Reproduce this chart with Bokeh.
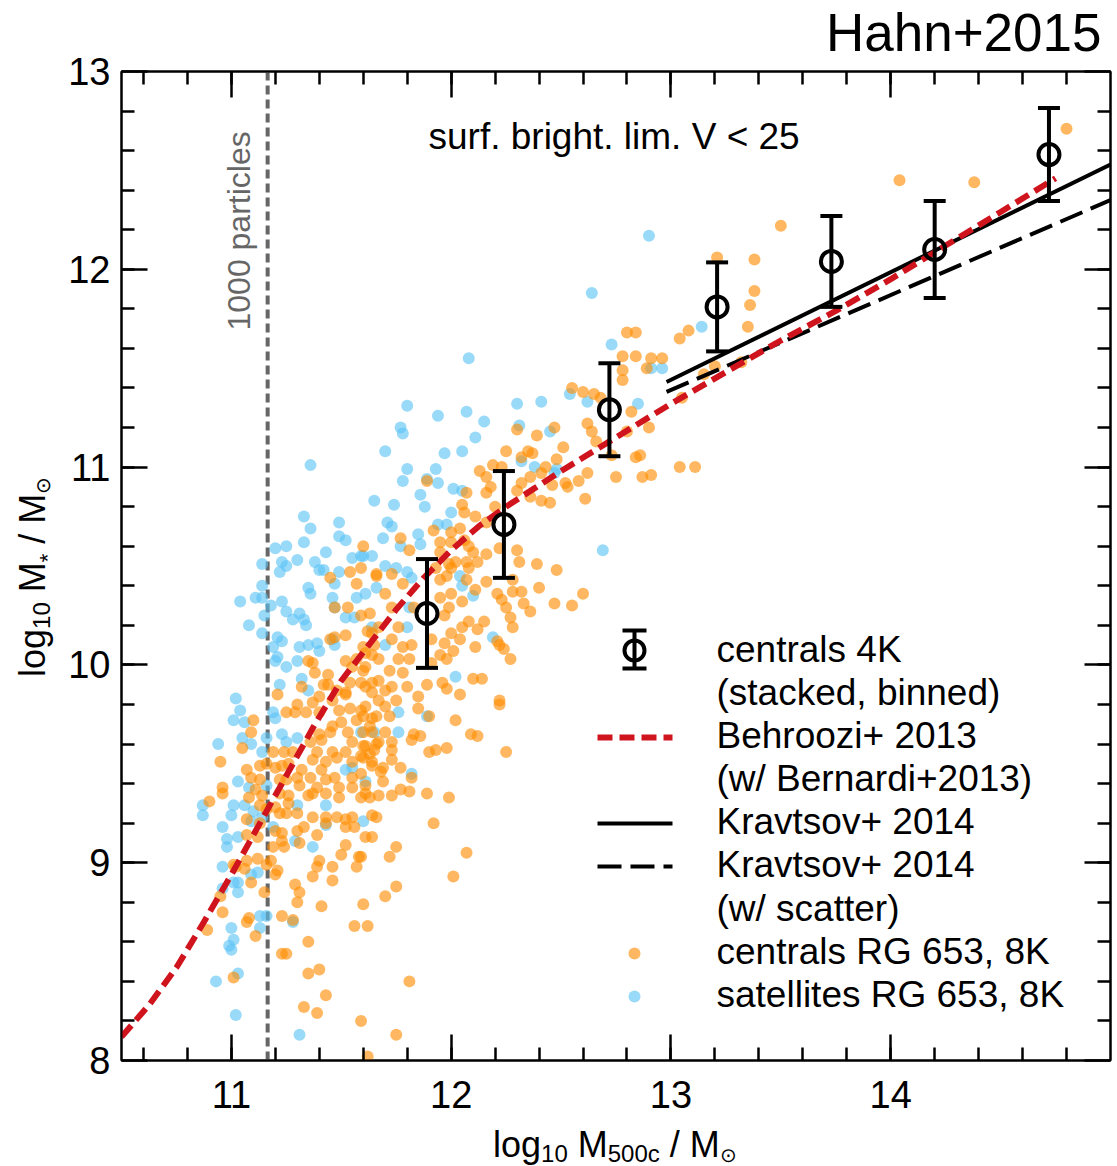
import numpy as np
from bokeh.plotting import figure
from bokeh.layouts import column, row
from bokeh.models import (ColumnDataSource, Label, LinearAxis, FixedTicker, Div,
                          Whisker, TeeHead, CustomJSTickFormatter)
from bokeh.embed import file_html
from bokeh.resources import INLINE

# ---------------------------------------------------------------- data
# log10 M500c / Msun  vs  log10 M* / Msun

# stacked & binned centrals (4K run)
bin_logm500 = [11.89, 12.24, 12.72, 13.21, 13.73, 14.20, 14.72]
bin_logmstar = [10.26, 10.71, 11.29, 11.81, 12.04, 12.10, 12.58]
bin_err = [0.275, 0.27, 0.235, 0.225, 0.23, 0.245, 0.235]

# Behroozi+2013 relation (with Bernardi+2013 correction)
behroozi_logm500 = [10.5, 10.625, 10.75, 10.875, 11.0, 11.125, 11.25, 11.375, 11.5,
                    11.625, 11.75, 11.875, 12.0, 12.125, 12.25, 12.375, 12.5, 12.75,
                    13.0, 13.25, 13.5, 13.75, 14.0, 14.25, 14.5, 14.75]
behroozi_logmstar = [8.12, 8.28, 8.47, 8.70, 8.94, 9.19, 9.44, 9.69, 9.92,
                     10.10, 10.28, 10.44, 10.58, 10.70, 10.80, 10.89, 10.98, 11.15,
                     11.32, 11.48, 11.64, 11.79, 11.95, 12.12, 12.29, 12.46]

# Kravtsov+2014
kravtsov_logm500 = [12.98, 15.0]
kravtsov_logmstar = [11.43, 12.53]
kravtsov_scatter_logm500 = [12.98, 15.0]
kravtsov_scatter_logmstar = [11.38, 12.35]

# 1000-particle resolution limit
particle_limit = 11.165

# RG 653 (8K) satellites
satellites = [
    (12.90, 12.17), (12.64, 11.88), (12.08, 11.55), (12.73, 11.62), (13.14, 11.71),
    (12.91, 11.50), (12.96, 11.50), (12.54, 11.37), (12.62, 11.33), (12.41, 11.33),
    (12.85, 11.32), (12.45, 11.18), (12.47, 10.97), (12.69, 10.58),
    (11.80, 11.31), (11.94, 11.26), (12.07, 11.28), (12.30, 11.32), (11.77, 11.20),
    (11.78, 11.17), (12.15, 11.23), (12.11, 11.15), (12.31, 11.21), (11.70, 11.08),
    (11.97, 11.07), (12.05, 11.08), (11.80, 10.99), (11.78, 10.93), (11.93, 10.99),
    (11.94, 10.92), (11.89, 10.94), (11.86, 10.86), (11.65, 10.83), (11.74, 10.81),
    (11.88, 10.80), (12.01, 10.89), (12.05, 10.88), (12.00, 10.77), (11.71, 10.72),
    (11.73, 10.70), (11.94, 10.71), (11.98, 10.71), (11.69, 10.64), (11.85, 10.66),
    (11.86, 10.61), (11.77, 10.60), (11.60, 10.55), (11.64, 10.55), (11.70, 10.50),
    (11.75, 10.49), (11.80, 10.47), (12.48, 10.99), (12.38, 11.00), (12.32, 11.03),
    (11.36, 11.01), (11.33, 10.75), (11.36, 10.69), (11.49, 10.72), (11.49, 10.65),
    (11.52, 10.63), (11.20, 10.59), (11.25, 10.60), (11.33, 10.62), (11.43, 10.57),
    (11.14, 10.51), (11.23, 10.52), (11.25, 10.50), (11.22, 10.47), (11.30, 10.53),
    (11.38, 10.52), (11.40, 10.48), (11.42, 10.48), (11.49, 10.47), (11.55, 10.54),
    (11.59, 10.55), (11.47, 10.41), (11.35, 10.39), (11.36, 10.36), (11.14, 10.40),
    (11.11, 10.34), (11.04, 10.32), (11.14, 10.34), (11.23, 10.32), (11.18, 10.30),
    (11.46, 10.34), (11.57, 10.34), (11.25, 10.27), (11.47, 10.29), (11.15, 10.25),
    (11.31, 10.26), (11.33, 10.23), (11.34, 10.20), (11.28, 10.23), (11.52, 10.24),
    (11.56, 10.24), (11.08, 10.20), (11.14, 10.16), (11.21, 10.14), (11.23, 10.12),
    (11.19, 10.09), (11.31, 10.09), (11.35, 10.10), (11.39, 10.11), (11.40, 10.07),
    (11.47, 10.10), (11.21, 10.04), (11.20, 10.02), (11.25, 9.99), (11.30, 10.02),
    (11.32, 9.93), (11.22, 9.90), (11.02, 9.83), (11.35, 9.87), (11.64, 10.19),
    (11.46, 10.13), (11.04, 9.77), (11.01, 9.72), (11.06, 9.71), (11.19, 9.76),
    (11.20, 9.73), (10.94, 9.60), (11.05, 9.63), (11.09, 9.60), (11.16, 9.63),
    (11.23, 9.65), (11.25, 9.61), (11.30, 9.63), (11.14, 9.56), (11.03, 9.41),
    (11.08, 9.38), (11.16, 9.39), (10.87, 9.29), (10.87, 9.24), (11.00, 9.24),
    (11.01, 9.29), (11.06, 9.29), (11.10, 9.26), (11.30, 9.29), (11.43, 9.29),
    (10.96, 9.18), (11.09, 9.21), (11.14, 9.23), (11.19, 9.18), (11.43, 9.19),
    (11.60, 9.21), (10.98, 9.12), (11.03, 9.13), (10.98, 9.08), (11.29, 9.11),
    (11.37, 9.08), (10.96, 8.98), (11.12, 8.95), (11.09, 8.94), (11.65, 9.66),
    (11.55, 9.48), (11.52, 9.47), (11.03, 8.90), (11.01, 8.90), (10.96, 8.87),
    (11.03, 8.85), (11.13, 8.73), (11.16, 8.73), (11.00, 8.67), (11.13, 8.67),
    (11.28, 8.70), (11.01, 8.61), (10.99, 8.58), (11.00, 8.56), (11.03, 8.44),
    (10.93, 8.40), (11.02, 8.23), (11.31, 8.13), (11.61, 10.36), (11.66, 10.39),
    (11.82, 10.44), (12.04, 10.45), (12.05, 10.40), (12.10, 10.35), (11.81, 10.29),
    (11.80, 10.19), (11.70, 10.10), (12.19, 10.14), (12.02, 9.94), (11.89, 9.74),
    (11.76, 9.76), (11.76, 9.66), (11.59, 9.66), (11.82, 9.45), (11.61, 9.41),
]

# RG 653 (8K) centrals
centrals = [
    (14.80, 12.71), (14.04, 12.45), (14.38, 12.44), (13.50, 12.22), (13.21, 12.06),
    (13.38, 12.05), (13.38, 11.89), (13.36, 11.82), (13.35, 11.71), (13.08, 11.69),
    (13.04, 11.65), (12.80, 11.68), (12.84, 11.68), (12.78, 11.56), (12.84, 11.56),
    (12.91, 11.55), (12.96, 11.55), (12.78, 11.49), (12.78, 11.44), (12.89, 11.50),
    (13.05, 11.35), (12.82, 11.28), (13.20, 11.51), (13.15, 11.47), (13.32, 11.53),
    (12.90, 11.20), (12.55, 11.40), (12.60, 11.38), (12.65, 11.37), (12.68, 11.35),
    (12.62, 11.22), (12.64, 11.18), (12.47, 11.20), (12.51, 11.10), (12.48, 11.04),
    (12.43, 11.00), (12.66, 11.13), (12.80, 11.18), (12.73, 11.06), (12.84, 11.05),
    (12.86, 11.06), (13.04, 11.00), (13.11, 11.00), (12.75, 10.95), (12.87, 10.95),
    (12.91, 10.96), (12.62, 10.97), (12.58, 10.93), (12.52, 10.92), (12.46, 10.91),
    (12.41, 10.97), (12.53, 10.90), (12.61, 10.84),
    (12.30, 11.19), (12.39, 11.16), (12.25, 11.08), (12.35, 11.08), (12.32, 11.05),
    (12.37, 11.07), (12.13, 10.98), (12.19, 11.01), (12.23, 11.00), (12.36, 10.95),
    (12.16, 10.95), (12.18, 10.90), (12.16, 10.87), (12.32, 10.92), (12.30, 10.88),
    (12.36, 10.85), (12.41, 10.83), (12.45, 10.82), (11.89, 10.93), (12.07, 10.87),
    (12.05, 10.81), (12.06, 10.77), (12.20, 10.80), (12.11, 10.75), (12.16, 10.72),
    (12.04, 10.69), (12.00, 10.67), (11.92, 10.68), (11.95, 10.62), (12.00, 10.62),
    (12.06, 10.63), (12.08, 10.60), (12.10, 10.57), (12.07, 10.52), (12.02, 10.52),
    (11.99, 10.51), (12.16, 10.56), (12.22, 10.59), (12.30, 10.58), (12.31, 10.52),
    (12.39, 10.51), (12.48, 10.48), (11.77, 10.64), (11.81, 10.58), (11.60, 10.60),
    (11.66, 10.46), (11.73, 10.46), (11.95, 10.57), (11.93, 10.49),
    (11.59, 10.49), (11.78, 10.41), (11.70, 10.36), (11.63, 10.26), (11.59, 10.25),
    (11.73, 10.29), (11.67, 10.19), (11.62, 10.17), (11.76, 10.19), (11.73, 10.13),
    (11.60, 10.09), (11.78, 10.09), (11.82, 10.10), (11.67, 10.03), (11.64, 10.05),
    (11.76, 10.03), (11.81, 10.03), (11.72, 9.97), (11.60, 9.97), (11.78, 9.96),
    (11.67, 9.92), (11.61, 9.89), (11.73, 9.89), (11.80, 9.89), (11.64, 9.86),
    (11.70, 9.87), (11.75, 9.82), (11.67, 9.82), (11.61, 9.79), (11.70, 9.79),
    (11.60, 9.74), (11.66, 9.74), (11.72, 9.74), (11.63, 9.69), (11.70, 9.66),
    (11.67, 9.61), (11.61, 9.59), (11.73, 9.57), (11.83, 10.29), (11.97, 10.25),
    (11.99, 10.29), (12.00, 10.36), (11.95, 10.34), (11.95, 10.43), (11.98, 10.45),
    (12.00, 10.49), (12.08, 10.49), (12.12, 10.52), (12.07, 10.43), (12.11, 10.38),
    (12.05, 10.32), (12.16, 10.42), (12.21, 10.36), (12.23, 10.33), (12.28, 10.37),
    (12.32, 10.37), (12.33, 10.31), (12.25, 10.29), (12.27, 10.24), (12.28, 10.19),
    (12.15, 10.22), (12.12, 10.18), (12.08, 10.22), (12.05, 10.19), (12.00, 10.16),
    (12.04, 10.13), (11.97, 10.11), (12.01, 10.07), (11.98, 10.03), (11.95, 10.05),
    (11.91, 10.13), (11.91, 10.01), (12.21, 10.12), (12.22, 10.10), (12.24, 10.08),
    (12.27, 10.03), (12.11, 10.09), (12.10, 9.93), (12.14, 9.93), (12.04, 9.85),
    (11.98, 9.88), (11.96, 9.91), (11.89, 9.90), (11.85, 9.84), (11.85, 9.78),
    (11.90, 9.74), (12.02, 9.72), (12.09, 9.65), (12.12, 9.64), (12.22, 9.82),
    (12.22, 9.80), (12.25, 9.56), (11.83, 9.65), (11.86, 9.64), (11.93, 9.57),
    (11.98, 9.58), (11.90, 9.56), (12.40, 10.39), (12.28, 10.43),
    (12.47, 10.31), (12.60, 10.36), (12.55, 10.30), (12.36, 10.27),
    (11.66, 9.60), (11.73, 9.61), (11.82, 9.62), (11.60, 9.53), (11.63, 9.55),
    (11.73, 9.52), (11.69, 9.48), (11.64, 9.49), (11.77, 9.48), (11.68, 9.46),
    (11.59, 9.45), (11.82, 9.43), (11.69, 9.41), (11.61, 9.39), (11.77, 9.37),
    (11.81, 9.36), (11.73, 9.34), (11.67, 9.34), (11.63, 9.33), (11.59, 9.33),
    (11.89, 9.35), (11.99, 9.33), (11.66, 9.23), (11.92, 9.20), (11.64, 9.13),
    (11.75, 9.08), (11.72, 9.03), (11.59, 9.03), (12.07, 9.05), (12.01, 8.93),
    (11.75, 8.88), (11.70, 8.83), (11.60, 8.79), (11.62, 8.68),
    (11.02, 8.98), (11.06, 8.97), (11.12, 9.02), (11.16, 8.99), (11.20, 8.94),
    (11.09, 8.90), (11.15, 8.85), (10.95, 8.83), (10.96, 8.75), (11.07, 8.70),
    (11.08, 8.72), (11.11, 8.63), (10.89, 8.66), (11.29, 8.89), (11.31, 8.85),
    (11.30, 8.80), (11.23, 8.73), (11.28, 8.71), (11.37, 8.93), (11.39, 8.98),
    (11.40, 9.01), (11.46, 8.98), (11.46, 8.91), (11.41, 8.78), (11.35, 8.60),
    (11.23, 8.54), (11.25, 8.54), (11.35, 8.44), (11.40, 8.46), (11.43, 8.33),
    (11.33, 8.27), (11.39, 8.24), (11.59, 8.20), (11.75, 8.13), (11.62, 8.02),
    (11.01, 8.42), (11.56, 8.68), (11.81, 8.40), (11.57, 8.98),
    (11.21, 9.85), (11.42, 9.90), (11.52, 9.85), (11.46, 9.82), (11.37, 9.81),
    (11.30, 9.80), (11.25, 9.76), (11.29, 9.76), (11.34, 9.76), (11.40, 9.76),
    (11.49, 9.77), (11.54, 9.78), (11.59, 9.77), (11.64, 9.73), (11.57, 9.72),
    (11.50, 9.71), (11.46, 9.69), (11.64, 9.66), (11.60, 9.66), (11.53, 9.66),
    (11.45, 9.66), (11.40, 9.65), (11.36, 9.61), (11.41, 9.62), (11.55, 9.61),
    (11.60, 9.59), (11.65, 9.57), (11.52, 9.56), (11.46, 9.56), (11.39, 9.56),
    (11.59, 9.54), (11.48, 9.53), (11.55, 9.51), (11.64, 9.51), (11.43, 9.51),
    (11.37, 9.52), (11.10, 9.72), (11.09, 9.66), (11.05, 9.58), (10.95, 9.51),
    (11.19, 9.56), (11.24, 9.56), (11.28, 9.56), (11.16, 9.50), (11.20, 9.48),
    (11.23, 9.49), (11.26, 9.50), (11.32, 9.47), (11.30, 9.43), (11.25, 9.42),
    (11.13, 9.49), (11.07, 9.47), (11.09, 9.43), (11.13, 9.42), (11.22, 9.42),
    (11.41, 9.47), (11.47, 9.43), (11.55, 9.43), (11.43, 9.42), (11.36, 9.43),
    (11.31, 9.39), (11.55, 9.38), (11.49, 9.38), (11.39, 9.38), (11.37, 9.35),
    (11.61, 9.35), (11.35, 9.34), (11.43, 9.35), (11.49, 9.33), (10.96, 9.38),
    (10.96, 9.35), (10.90, 9.31), (11.11, 9.37), (11.14, 9.34), (11.22, 9.35),
    (11.26, 9.34), (11.08, 9.33), (11.13, 9.29), (11.16, 9.27), (11.20, 9.28),
    (11.26, 9.30), (11.22, 9.25), (11.25, 9.25), (11.30, 9.25), (11.37, 9.23),
    (11.43, 9.23), (11.48, 9.23), (11.55, 9.23), (11.52, 9.22), (11.64, 9.24),
    (11.07, 9.22), (11.13, 9.20), (11.20, 9.16), (11.23, 9.15), (11.30, 9.16),
    (11.33, 9.18), (11.39, 9.14), (11.43, 9.20), (11.52, 9.18), (11.56, 9.18),
    (11.07, 9.14), (11.12, 9.13), (11.23, 9.11), (11.31, 9.10), (11.24, 9.08),
    (11.19, 9.08), (11.52, 9.09), (11.58, 9.03), (11.61, 9.13), (11.50, 9.04),
    (11.07, 9.01), (11.01, 8.99), (11.21, 8.96), (11.18, 9.01),
    (11.54, 10.47), (11.45, 10.44), (11.66, 10.45), (11.57, 10.41), (11.47, 10.29),
    (11.53, 10.29), (11.52, 10.15), (11.47, 10.14), (11.45, 10.13), (11.35, 10.02),
    (11.37, 10.01), (11.38, 9.96), (11.44, 9.95), (11.52, 10.02), (11.55, 9.99),
    (11.57, 10.03), (11.61, 10.06), (11.65, 10.10), (11.64, 10.16), (11.54, 9.91),
    (11.59, 9.91), (11.64, 9.91), (11.32, 9.89), (11.44, 9.90), (11.48, 9.87),
    (11.52, 9.86), (11.40, 9.84), (11.61, 9.99),
]

# ---------------------------------------------------------------- layout
X_RANGE = (10.5, 15.0)
Y_RANGE = (8.0, 13.0)
W, H = 1117, 1166
FL, FR, FT, FB = 121, 1110, 71, 1060          # plot frame edges on the page
YT_W = 62                                     # strip holding the y-axis title
XT_H = 40                                     # strip holding the x-axis title
PW, PH = W - YT_W, H - XT_H                   # figure canvas size
FONT = "Liberation Sans"

ORANGE = "#FF8C00"
BLUE = "#5CC4F5"
RED = "#D0141E"


def sx(px):
    """page column -> data x (legend samples inside the frame)"""
    return X_RANGE[0] + (px - FL) * (X_RANGE[1] - X_RANGE[0]) / (FR - FL)


def sy(py):
    """page row -> data y"""
    return Y_RANGE[1] - (py - FT) * (Y_RANGE[1] - Y_RANGE[0]) / (FB - FT)


def text(px, py, txt, size, color="black", align="left", rotated=False):
    """text whose alphabetic baseline starts at page pixel (px, py)"""
    shift = 0.37 * size
    cx, cy = px - YT_W, py
    if rotated:
        cx -= shift
    else:
        cy -= shift
    return Label(x=cx, y=cy, x_units="canvas", y_units="canvas", text=txt,
                 angle=np.pi / 2 if rotated else 0, text_font=FONT,
                 text_font_size=f"{size}px", text_color=color, text_align=align,
                 text_baseline="alphabetic")


p = figure(width=PW, height=PH, x_range=X_RANGE, y_range=Y_RANGE,
           output_backend="svg", toolbar_location=None,
           min_border_left=FL - YT_W, min_border_right=W - FR,
           min_border_top=FT, min_border_bottom=PH - FB)
p.grid.visible = False
p.outline_line_color = "black"
p.outline_line_width = 2
p.background_fill_color = "white"
p.border_fill_color = "white"

x_major = [11, 12, 13, 14]
x_minor = [round(10.6 + 0.2 * i, 1) for i in range(22)]
y_major = [8, 9, 10, 11, 12, 13]
y_minor = [round(8.2 + 0.2 * i, 1) for i in range(24)]


def style_axis(ax, major, minor, labels=True):
    ax.ticker = FixedTicker(ticks=major, minor_ticks=minor)
    ax.major_tick_in = 26
    ax.major_tick_out = 0
    ax.minor_tick_in = 13
    ax.minor_tick_out = 0
    ax.major_tick_line_width = 2.5
    ax.minor_tick_line_width = 2.5
    ax.major_tick_line_color = "black"
    ax.minor_tick_line_color = "black"
    ax.axis_line_width = 2
    ax.axis_line_color = "black"
    if labels:
        ax.major_label_text_font = FONT
        ax.major_label_text_font_size = "38px"
        ax.major_label_text_color = "black"
    else:
        ax.formatter = CustomJSTickFormatter(code="return ''")
        ax.major_label_text_font_size = "1px"
        ax.major_label_standoff = 0


style_axis(p.xaxis[0], x_major, x_minor)
p.xaxis[0].major_label_standoff = 20
style_axis(p.yaxis[0], y_major, y_minor)
p.yaxis[0].major_label_standoff = 11

top_axis = LinearAxis()
style_axis(top_axis, x_major, x_minor, labels=False)
p.add_layout(top_axis, "above")
right_axis = LinearAxis()
style_axis(right_axis, y_major, y_minor, labels=False)
p.add_layout(right_axis, "right")

# ---------------------------------------------------------------- marks
# resolution limit
p.segment(x0=[particle_limit], y0=[Y_RANGE[0]], x1=[particle_limit], y1=[Y_RANGE[1]],
          line_color="#666666", line_width=4, line_dash="9 5")

sat_x, sat_y = zip(*satellites)
cen_x, cen_y = zip(*centrals)
p.scatter(list(sat_x), list(sat_y), marker="circle", size=12,
          fill_color=BLUE, fill_alpha=0.62, line_color=None)
p.scatter(list(cen_x), list(cen_y), marker="circle", size=12,
          fill_color=ORANGE, fill_alpha=0.62, line_color=None)

p.line(kravtsov_logm500, kravtsov_logmstar, line_color="black", line_width=4)
p.line(kravtsov_scatter_logm500, kravtsov_scatter_logmstar, line_color="black",
       line_width=4, line_dash="24 9")
p.line(behroozi_logm500, behroozi_logmstar, line_color=RED, line_width=6,
       line_dash="15 7")

bins = ColumnDataSource(dict(
    x=bin_logm500, y=bin_logmstar,
    lower=[v - e for v, e in zip(bin_logmstar, bin_err)],
    upper=[v + e for v, e in zip(bin_logmstar, bin_err)],
))
p.add_layout(Whisker(base="x", lower="lower", upper="upper", source=bins,
                     dimension="height", line_width=4, line_color="black",
                     lower_head=TeeHead(size=22, line_width=4, line_color="black"),
                     upper_head=TeeHead(size=22, line_width=4, line_color="black"),
                     level="overlay"))
p.scatter("x", "y", source=bins, marker="circle", size=21, fill_color=None,
          line_color="black", line_width=4)

# ---------------------------------------------------------------- legend
leg_x0, leg_x1, leg_mid, leg_text = 597, 672, 634, 716
rows = [651, 694, 737, 780, 823, 866, 910, 953, 996]

leg_err = ColumnDataSource(dict(x=[sx(leg_mid)], lower=[sy(668)], upper=[sy(630)]))
p.add_layout(Whisker(base="x", lower="lower", upper="upper", source=leg_err,
                     dimension="height", line_width=4, line_color="black",
                     lower_head=TeeHead(size=24, line_width=4, line_color="black"),
                     upper_head=TeeHead(size=24, line_width=4, line_color="black"),
                     level="overlay"))
p.scatter([sx(leg_mid)], [sy(650)], marker="circle", size=20, fill_color=None,
          line_color="black", line_width=4)
p.line([sx(leg_x0), sx(leg_x1)], [sy(rows[2])] * 2, line_color=RED, line_width=6,
       line_dash="15 7")
p.line([sx(leg_x0), sx(leg_x1)], [sy(rows[4])] * 2, line_color="black", line_width=4)
p.line([sx(leg_x0), sx(leg_x1)], [sy(rows[5])] * 2, line_color="black", line_width=4,
       line_dash="24 9")
p.scatter([sx(leg_mid)], [sy(rows[7])], marker="circle", size=12,
          fill_color=ORANGE, fill_alpha=0.62, line_color=None)
p.scatter([sx(leg_mid)], [sy(rows[8])], marker="circle", size=12,
          fill_color=BLUE, fill_alpha=0.62, line_color=None)

legend_texts = ["centrals 4K", "(stacked, binned)", "Behroozi+ 2013",
                "(w/ Bernardi+2013)", "Kravtsov+ 2014", "Kravtsov+ 2014",
                "(w/ scatter)", "centrals RG 653, 8K", "satellites RG 653, 8K"]
for txt, row_y in zip(legend_texts, rows):
    p.add_layout(text(leg_text, row_y + 12, txt, 37))

# ---------------------------------------------------------------- texts
p.add_layout(text(428, 150, "surf. bright. lim. V < 25", 37))
p.add_layout(text(250, 330, "1000 particles", 32, color="#666666", rotated=True))
# corner title, kept in the top margin
p.add_layout(text(1101, 52, "Hahn+2015", 53, align="right"), "above")

SUB = "font-size:{fs}px;position:relative;top:{dy}px;"
TXT = (f"font-family:'{FONT}';font-size:36px;line-height:36px;color:black;"
       "white-space:nowrap;position:absolute;")

x_title = Div(
    width=W, height=XT_H, margin=(0, 0, 0, 0),
    text=(f'<div style="position:relative;width:{W}px;height:{XT_H}px;">'
          f'<span style="{TXT}left:493px;top:1px;">log'
          f'<span style="{SUB.format(fs=24, dy=5)}">10</span> M'
          f'<span style="{SUB.format(fs=24, dy=5)}">500c</span> / M'
          f'<span style="{SUB.format(fs=20, dy=5)}">\u2299</span></span></div>'))

y_title = Div(
    width=YT_W, height=PH, margin=(0, 0, 0, 0),
    text=(f'<div style="position:relative;width:{YT_W}px;height:{PH}px;">'
          f'<span style="{TXT}left:15px;top:677px;transform-origin:0 0;'
          f'transform:rotate(-90deg);">log'
          f'<span style="{SUB.format(fs=24, dy=5)}">10</span> M'
          f'<span style="{SUB.format(fs=22, dy=10)}">*</span> / M'
          f'<span style="{SUB.format(fs=20, dy=5)}">\u2299</span></span></div>'))

layout = column(row(y_title, p, spacing=0), x_title, spacing=0)

open("out.html", "w").write(file_html(layout, INLINE))
